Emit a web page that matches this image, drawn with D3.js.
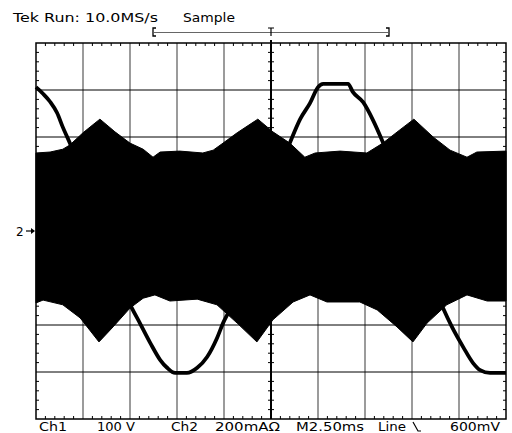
<!DOCTYPE html>
<html>
<head>
<meta charset="utf-8">
<script src="https://cdn.jsdelivr.net/npm/d3@7"></script>
<style>
  body { margin: 0; background: #fff; }
  text { font-family: "DejaVu Sans", sans-serif; fill: #000; }
</style>
</head>
<body>
<svg id="scope" width="512" height="433"></svg>
<script>
// ---- data (all in screen divisions: x 0..10, y -4..4) ----

// Ch1 trace (line voltage)
const ch1T = [0, 0.15, 0.30, 0.45, 0.57, 0.72, 1.36, 2.04, 2.21, 2.43, 2.64, 2.79, 2.96, 3.21, 3.43, 3.64, 3.85, 3.98, 4.09,
              4.72, 5.40, 5.62, 5.83, 6.00, 6.11, 6.64, 6.74, 6.96, 7.17, 7.38, 8.06, 8.66, 8.85, 9.09, 9.30, 9.45, 9.66, 10];
const ch1V = [3.06, 2.92, 2.75, 2.51, 2.21, 1.87, 0.04, -1.64, -1.96, -2.38, -2.74, -2.91, -3.02, -3.02, -2.91, -2.68, -2.28, -1.96, -1.74,
              0.04, 1.87, 2.38, 2.72, 3.06, 3.13, 3.13, 2.96, 2.74, 2.36, 1.89, 0.04, -1.64, -2.04, -2.47, -2.81, -2.96, -3.02, -3.02];

// Ch2 envelope, upper edge
const envTopT = [0, 0.30, 0.57, 0.72, 1.00, 1.21, 1.36, 1.68, 2.00, 2.28, 2.49, 2.64, 3.06, 3.55, 3.77, 3.98, 4.28, 4.72,
                 5.04, 5.40, 5.72, 5.94, 6.47, 7.04, 7.38, 7.74, 8.04, 8.45, 8.81, 9.17, 9.38, 10];
const envTopV = [1.66, 1.68, 1.74, 1.83, 2.09, 2.26, 2.38, 2.11, 1.87, 1.74, 1.57, 1.68, 1.70, 1.66, 1.72, 1.87, 2.09, 2.38,
                 2.11, 1.87, 1.57, 1.66, 1.70, 1.66, 1.87, 2.15, 2.38, 2.00, 1.72, 1.57, 1.68, 1.70];

// Ch2 envelope, lower edge
const envBotT = [0, 0.15, 0.57, 0.94, 1.34, 1.64, 2.00, 2.28, 2.53, 2.85, 3.43, 3.85, 4.28, 4.70, 5.04, 5.47, 5.83,
                 6.19, 6.89, 7.26, 7.68, 8.02, 8.32, 8.74, 9.17, 9.60, 10];
const envBotV = [-1.53, -1.47, -1.57, -1.85, -2.36, -2.04, -1.64, -1.43, -1.36, -1.49, -1.45, -1.57, -1.96, -2.36, -1.89, -1.51, -1.36,
                 -1.51, -1.51, -1.68, -2.04, -2.36, -1.96, -1.57, -1.36, -1.49, -1.49];

// readouts
const headerLabels = ["Tek Run: 10.0MS/s", "Sample"];
const footerLabels = ["Ch1", "100 V", "Ch2", "200mA\u03a9", "M2.50ms", "Line", "600mV"];
const ch2Marker = "2";

// ---- layout ----
const svg = d3.select("#scope");
const x = d3.scaleLinear().domain([0, 10]).range([36, 506]);
const y = d3.scaleLinear().domain([-4, 4]).range([419, 43]);

const grid = svg.append("g");

// vertical division lines
grid.selectAll(".vline").data(d3.range(1, 10)).join("line")
    .attr("x1", d => x(d)).attr("x2", d => x(d))
    .attr("y1", y(4)).attr("y2", y(-4))
    .attr("stroke", d => d === 5 ? "#000" : "#7a7a7a")
    .attr("stroke-width", d => d === 5 ? 2 : 1.5);

// horizontal division lines
grid.selectAll(".hline").data(d3.range(-3, 4)).join("line")
    .attr("x1", x(0)).attr("x2", x(10))
    .attr("y1", d => y(d)).attr("y2", d => y(d))
    .attr("stroke", "#000").attr("stroke-width", d => d === 0 ? 2 : 1);

// minor ticks
const minorX = d3.range(0, 50).map(i => i / 5).filter(v => v % 1 !== 0);
const minorY = d3.range(-20, 20).map(i => i / 5).filter(v => v % 1 !== 0);
const tk = 3;
const ticks = [];
minorX.forEach(v => {
    ticks.push([x(v), y(4), x(v), y(4) + tk]);
    ticks.push([x(v), y(-4), x(v), y(-4) - tk]);
    ticks.push([x(v), y(0) - tk, x(v), y(0) + tk]);
});
minorY.forEach(v => {
    ticks.push([x(0), y(v), x(0) + tk, y(v)]);
    ticks.push([x(10), y(v), x(10) - tk, y(v)]);
    ticks.push([x(5) - tk, y(v), x(5) + tk, y(v)]);
});
grid.selectAll(".tick").data(ticks).join("line")
    .attr("x1", d => d[0]).attr("y1", d => d[1]).attr("x2", d => d[2]).attr("y2", d => d[3])
    .attr("stroke", "#000").attr("stroke-width", 1);

// little mark above the centre line
grid.append("line").attr("x1", x(5)).attr("x2", x(5)).attr("y1", y(4) - 3).attr("y2", y(4))
    .attr("stroke", "#000").attr("stroke-width", 2);

// frame
grid.append("rect").attr("x", x(0)).attr("y", y(4))
    .attr("width", x(10) - x(0)).attr("height", y(-4) - y(4))
    .attr("fill", "none").attr("stroke", "#000").attr("stroke-width", 1.5);

// ---- Ch1 trace ----
const ch1 = ch1T.map((t, i) => [t, ch1V[i]]);
svg.append("path").datum(ch1)
    .attr("fill", "none").attr("stroke", "#000").attr("stroke-width", 3.8)
    .attr("stroke-linejoin", "round")
    .attr("d", d3.line().x(d => x(d[0])).y(d => y(d[1])).curve(d3.curveMonotoneX));

// ---- Ch2 envelope (filled band) ----
const topEdge = envTopT.map((t, i) => [t, envTopV[i]]);
const botEdge = envBotT.map((t, i) => [t, envBotV[i]]);
const area = d3.area().x(d => x(d[0])).y0(y(0)).y1(d => y(d[1]));
svg.append("path").datum(topEdge).attr("fill", "#000").attr("stroke", "#000").attr("stroke-width", 1).attr("d", area);
svg.append("path").datum(botEdge).attr("fill", "#000").attr("stroke", "#000").attr("stroke-width", 1).attr("d", area);

// ---- Ch2 ground marker ----
svg.append("text").attr("x", 16).attr("y", y(0) + 5).attr("font-size", 12).text(ch2Marker);
svg.append("line").attr("x1", 26).attr("x2", 33).attr("y1", y(0)).attr("y2", y(0)).attr("stroke", "#000").attr("stroke-width", 1.2);
svg.append("path").attr("d", `M${35},${y(0)} l-4,-3 l0,6 z`).attr("fill", "#000");

// ---- header ----
const headerX = [13, 183];
const headerW = [145, 52];
svg.selectAll(".hdr").data(headerLabels).join("text")
    .attr("x", (d, i) => headerX[i]).attr("y", 22)
    .attr("font-size", 13)
    .attr("textLength", (d, i) => headerW[i]).attr("lengthAdjust", "spacingAndGlyphs")
    .text(d => d);

// trigger window bracket
const br = svg.append("g").attr("stroke", "#000").attr("fill", "none");
br.append("line").attr("x1", 154).attr("x2", 388).attr("y1", 32.5).attr("y2", 32.5).attr("stroke", "#666").attr("stroke-width", 1.2);
br.append("path").attr("d", "M156,28 h-3 v8 h3").attr("stroke-width", 1.3);
br.append("path").attr("d", "M386,28 h3 v8 h-3").attr("stroke-width", 1.3);
br.append("path").attr("d", `M${x(5) - 3},28 h6 M${x(5)},28 v8`).attr("stroke-width", 1.2);

// ---- footer ----
const footerX = [39, 97, 171, 215, 296, 378, 450];
const footerW = [28, 38, 27, 65, 68, 28, 50];
svg.selectAll(".ftr").data(footerLabels).join("text")
    .attr("x", (d, i) => footerX[i]).attr("y", 430.5)
    .attr("font-size", 12)
    .attr("textLength", (d, i) => footerW[i]).attr("lengthAdjust", "spacingAndGlyphs")
    .text(d => d);
// falling-slope symbol after "Line"
svg.append("path").attr("d", "M413,422 l5,9 h3").attr("stroke", "#000").attr("fill", "none").attr("stroke-width", 1.2);
</script>
</body>
</html>
